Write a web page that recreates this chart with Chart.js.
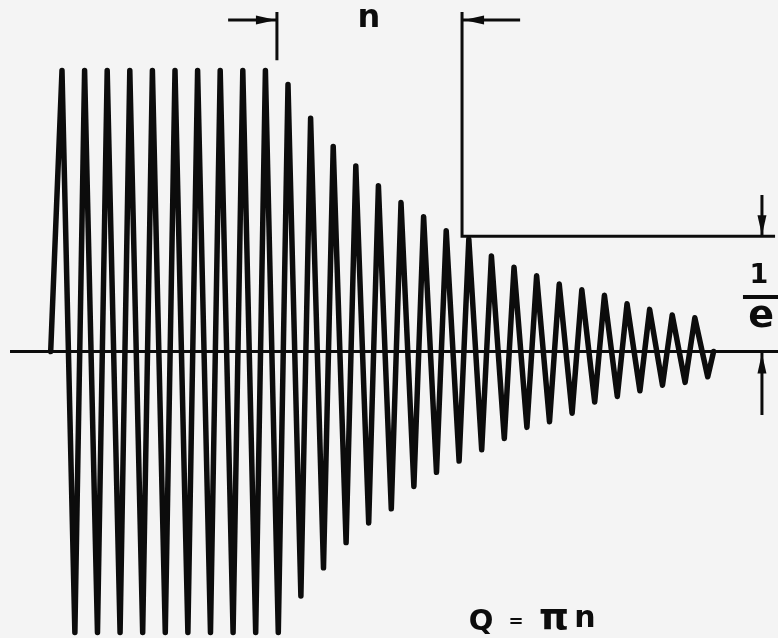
<!DOCTYPE html>
<html lang="en">
<head>
    <meta charset="UTF-8">
    <title>Damped oscillation - Q = πn</title>
    <style>
        body {
            margin: 0;
            padding: 0;
            background-color: #f4f4f4;
        }

        #wrap {
            position: relative;
            width: 778px;
            height: 638px;
        }
    </style>
</head>
<body>
    <div id="wrap"><canvas id="plot"></canvas></div>
    <script src="https://cdn.jsdelivr.net/npm/chart.js"></script>
    <script>
        // swing amplitudes, 1 = starting amplitude
        const peakAmp = [1, 1, 1, 1, 1, 1, 1, 1, 1, 1,
            0.95, 0.83, 0.73, 0.66, 0.59, 0.53, 0.48, 0.43, 0.40, 0.34,
            0.30, 0.27, 0.24, 0.22, 0.20, 0.17, 0.15, 0.13, 0.12];
        const troughAmp = [-1, -1, -1, -1, -1, -1, -1, -1, -1, -1,
            -0.87, -0.77, -0.68, -0.61, -0.56, -0.48, -0.43, -0.39, -0.35, -0.31,
            -0.27, -0.25, -0.22, -0.18, -0.16, -0.14, -0.12, -0.11, -0.09];
        const startTime = -0.5;    // cycles
        const troughPhase = 0.57;  // part of a cycle from peak to following trough
        const endTime = 28.83;
        const oneOverE = 0.41;     // level of the 1/e mark
        const nStart = 9.51;       // cycle where the n span starts
        const nEnd = 17.70;        // cycle where the amplitude reaches 1/e

        const ink = '#0c0c0c';

        // build the trace from the swing lists
        const trace = [{ x: startTime, y: 0 }];
        peakAmp.forEach((a, k) => {
            trace.push({ x: k, y: a });
            trace.push({ x: k + troughPhase, y: troughAmp[k] });
        });
        trace.push({ x: endTime, y: 0 });

        function seg(points, width) {
            return {
                data: points,
                showLine: true,
                borderColor: ink,
                borderWidth: width,
                borderCapStyle: 'butt',
                borderJoinStyle: 'miter',
                pointRadius: 0,
                clip: false
            };
        }

        const markTop = 1.208;
        const arrowY = 1.18;
        const markX = 30.97;

        // arrowheads and lettering, placed through the chart scales
        const annotate = {
            id: 'annotate',
            afterDatasetsDraw(chart) {
                const ctx = chart.ctx;
                const sx = chart.scales.x;
                const sy = chart.scales.y;
                const px = v => sx.getPixelForValue(v);
                const py = v => sy.getPixelForValue(v);

                function head(x, y, dx, dy) {
                    const len = 20, half = 4.5;
                    const bx = x - dx * len, by = y - dy * len;
                    ctx.beginPath();
                    ctx.moveTo(x, y);
                    ctx.lineTo(bx - dy * half, by + dx * half);
                    ctx.lineTo(bx + dy * half, by - dx * half);
                    ctx.closePath();
                    ctx.fill();
                }

                ctx.save();
                ctx.fillStyle = ink;
                head(px(nStart) - 1, py(arrowY), 1, 0);
                head(px(nEnd) + 2, py(arrowY), -1, 0);
                head(px(markX), py(oneOverE) - 1, 0, 1);
                head(px(markX), py(0) + 2, 0, -1);

                ctx.textAlign = 'center';
                ctx.textBaseline = 'middle';
                ctx.font = 'bold 32px "DejaVu Sans"';
                ctx.fillText('n', px(13.58), py(1.173) - 3);

                ctx.font = 'bold 27px "DejaVu Sans"';
                ctx.fillText('1', px(30.84), py(0.272) + 1);
                ctx.font = 'bold 38px "DejaVu Sans"';
                ctx.fillText('e', px(30.93), py(0.126) + 1);

                ctx.font = 'bold 29px "DejaVu Sans"';
                ctx.fillText('Q', px(18.54), py(-0.963));
                ctx.font = 'bold 18px "DejaVu Sans"';
                ctx.fillText('=', px(20.09), py(-0.963));
                ctx.font = 'bold 38px "DejaVu Sans"';
                ctx.fillText('π', px(21.77), py(-0.963) - 3);
                ctx.font = 'bold 30px "DejaVu Sans"';
                ctx.fillText('n', px(23.14), py(-0.963) - 3);
                ctx.restore();
            }
        };

        new Chart(document.getElementById('plot'), {
            type: 'scatter',
            data: {
                datasets: [
                    seg([{ x: -2.30, y: 0 }, { x: 31.68, y: 0 }], 3),
                    seg([{ x: nStart, y: markTop }, { x: nStart, y: 1.037 }], 3),
                    seg([{ x: 7.35, y: arrowY }, { x: nStart, y: arrowY }], 3),
                    seg([{ x: nEnd, y: markTop }, { x: nEnd, y: oneOverE }, { x: 31.55, y: oneOverE }], 3),
                    seg([{ x: nEnd, y: arrowY }, { x: 20.27, y: arrowY }], 3),
                    seg([{ x: markX, y: 0.557 }, { x: markX, y: oneOverE }], 3),
                    seg([{ x: markX, y: -0.226 }, { x: markX, y: 0 }], 3),
                    seg([{ x: 30.13, y: 0.194 }, { x: 31.68, y: 0.194 }], 4),
                    Object.assign(seg(trace, 5.5), { borderJoinStyle: 'round', borderCapStyle: 'round' })
                ]
            },
            options: {
                responsive: true,
                maintainAspectRatio: false,
                animation: false,
                layout: { padding: 0 },
                plugins: {
                    legend: { display: false },
                    tooltip: { enabled: false }
                },
                scales: {
                    x: { type: 'linear', display: false, min: -2.743, max: 31.68 },
                    y: { type: 'linear', display: false, min: -1.0196, max: 1.251 }
                }
            },
            plugins: [annotate]
        });
    </script>
</body>
</html>
